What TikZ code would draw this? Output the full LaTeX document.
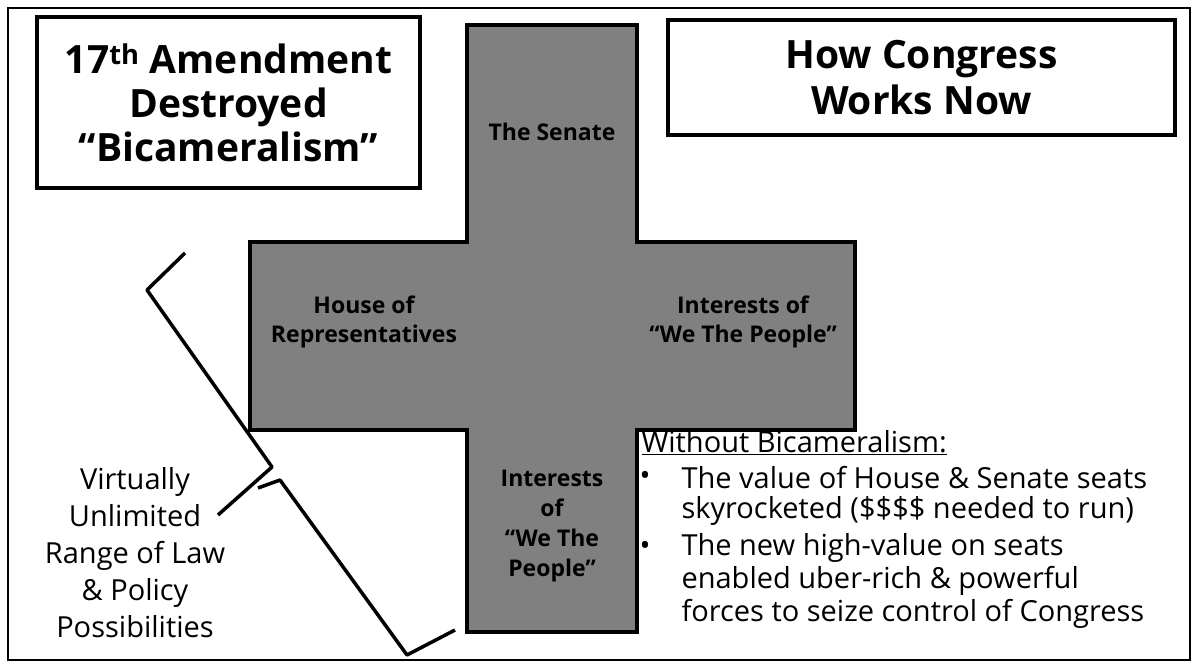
\documentclass[tikz,border=0pt]{standalone}
\usepackage{fontspec}
\setmainfont{Open Sans}
\begin{document}
\begin{tikzpicture}[x=1pt,y=-1pt,
  box/.style={draw,line width=3.5pt},
  lbl/.style={font=\fontsize{23}{29}\selectfont\bfseries,align=center,text=black},
  body/.style={font=\fontsize{29}{36}\selectfont,anchor=west}]
\useasboundingbox (0,0) rectangle (1200,669);
\draw[line width=2pt] (8,8) rectangle (1190,660);
\draw[line width=3.5pt,fill=gray]
 (467,25) -- (637,25) -- (637,242) -- (855,242) -- (855,430) -- (637,430) -- (637,632) -- (467,632) -- (467,430) -- (250,430) -- (250,242) -- (467,242) -- cycle;
\node[box,minimum width=383pt,minimum height=171pt,font=\fontsize{39}{44}\selectfont\bfseries,align=center] (t1) at (228.5,102.5) {17\textsuperscript{th} Amendment\\Destroyed\\“Bicameralism”};
\node[box,minimum width=507pt,minimum height=115pt,font=\fontsize{39}{46}\selectfont\bfseries,align=center] (t2) at (921.5,77.5) {How Congress\\Works Now};
\node[lbl] (sen) at (552,132) {The Senate};
\node[lbl] (hor) at (364,322) {House of\\Representatives};
\node[lbl] (wtp) at (743,322) {Interests of\\“We The People”};
\node[lbl,font=\fontsize{23}{30}\selectfont\bfseries] (wtp2) at (552,526) {Interests\\of\\“We The\\People”};
\node[font=\fontsize{29}{37}\selectfont,align=center] (vu) at (135,553) {Virtually\\Unlimited\\Range of Law\\\& Policy\\Possibilities};
\draw[line width=3.5pt,line join=round] (185,253) -- (147,290) -- (272,467) -- (218,515);
\draw[line width=3.5pt,line join=round] (258,488) -- (280,480) -- (407,655) -- (455,630);
\node[body] (wb) at (638,443) {\underline{Without Bicameralism:}};
\foreach \y/\t in {478/The value of House \& Senate seats,511/skyrocketed (\$\$\$\$ needed to run),548/The new high-value on seats,581/enabled uber-rich \& powerful,614/forces to seize control of Congress}
  \node[body] at (678,\y) {\t};
\node[body] (b1) at (636,478) {•};
\node[body] (b2) at (636,548) {•};
\end{tikzpicture}
\end{document}
